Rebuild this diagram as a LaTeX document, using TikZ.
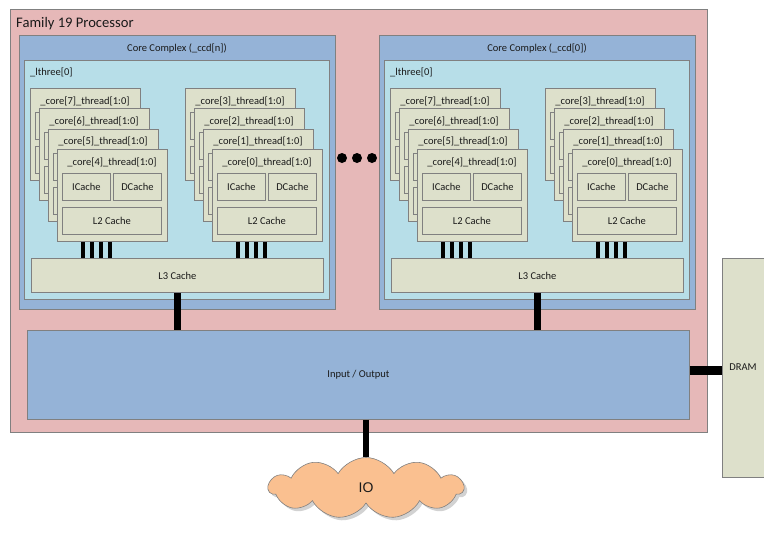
\documentclass[tikz,border=0pt]{standalone}
\usepackage{fontspec}
\setmainfont{Carlito}
\newfontfamily\arialf{Liberation Sans}
\usetikzlibrary{calc,shapes.symbols,shadows}
\definecolor{pinkbg}{HTML}{E6B8B8}
\definecolor{bluegray}{HTML}{95B3D7}
\definecolor{lblue}{HTML}{B7DEE8}
\definecolor{beige}{HTML}{DDE0CB}
\definecolor{cloudor}{HTML}{FAC090}
\definecolor{edge}{HTML}{808080}
\definecolor{txt}{HTML}{1A1A1A}
\tikzset{
  box/.style={draw=edge, line width=0.8pt, inner sep=0pt, anchor=north west, text=txt},
  corebx/.style={box, fill=beige, minimum width=110pt, minimum height=92pt},
  subbx/.style={box, fill=beige, minimum height=27pt, font=\fontsize{10.5}{12}\selectfont},
  lab/.style={inner sep=0pt, text=txt, font=\fontsize{10.5}{12}\selectfont},
  bus/.style={line width=3.5pt, black},
  widebus/.style={line width=7.5pt, black},
}
% #1 name, #2 x, #3 y, #4 index, #5 #6 #7 texts of sub boxes
\newcommand\corebox[7]{%
  \node[corebx] (#1) at (#2,#3) {};
  \node[lab] (#1t) at ($(#1.north west)+(55,13)$) {\_core[#4]\_thread[1:0]};
  \node[subbx, minimum width=48pt] (#1i) at ($(#1.north west)+(5,24)$) {#5};
  \node[subbx, minimum width=48pt] (#1d) at ($(#1.north west)+(56,24)$) {#6};
  \node[subbx, minimum width=99pt] (#1l) at ($(#1.north west)+(5,58)$) {#7};
}
\begin{document}
\begin{tikzpicture}[x=1pt,y=-1pt]
\useasboundingbox (0,0) rectangle (780,533);
% outer processor
\node[box, fill=pinkbg, minimum width=697pt, minimum height=423pt] (proc) at (10,9) {};
\node[lab, anchor=west, font=\fontsize{14.6}{18}\selectfont] (proct) at (16,24) {Family 19 Processor};
% complexes
\foreach \cx/\cn/\cl in {0/L/n, 360/R/0} {
  \node[box, fill=bluegray, minimum width=316pt, minimum height=274pt] (\cn cc) at (19+\cx,35) {};
  \node[lab] (\cn cct) at (177+\cx,49) {Core Complex (\_ccd[\cl])};
  \node[box, fill=lblue, minimum width=305pt, minimum height=239pt] (\cn l3b) at (24+\cx,60) {};
  \node[lab, anchor=west] (\cn l3bt) at (30+\cx,72) {\_lthree[0]};
  \node[box, fill=beige, minimum width=292pt, minimum height=34pt, font=\fontsize{10.5}{12}\selectfont] (\cn l3) at (31+\cx,258) {L3 Cache};
  \foreach \gx/\gb in {0/7, 155/3} {
    \foreach \k in {0,...,3} {
      \pgfmathtruncatemacro\idx{\gb-\k}
      \ifnum\k=3
        \corebox{\cn\gb\k}{\cx+\gx+30+9*\k}{88+20.33*\k}{\idx}{ICache}{DCache}{L2 Cache}
      \else
        \corebox{\cn\gb\k}{\cx+\gx+30+9*\k}{88+20.33*\k}{\idx}{}{}{}
      \fi
    }
    \foreach \o in {26,35,44,53} {
      \path (\cn\gb3.south west) ++(\o,0) coordinate (\cn\gb b\o);
      \draw[bus] (\cn\gb b\o) -- (\cn\gb b\o |- \cn l3.north);
    }
  }
}
% dots
\foreach \i/\dx in {1/342,2/357,3/372} {
  \node[circle, fill=black, inner sep=0pt, minimum size=10pt] (dot\i) at (\dx,158) {};
}
% IO box
\node[box, fill=bluegray, minimum width=662pt, minimum height=89pt, font=\fontsize{10.5}{12}\selectfont] (io) at (27,330) {Input / Output};
\foreach \cn in {L,R} {
  \draw[widebus] (\cn l3.south) -- (\cn l3.south |- io.north);
}
% DRAM
\path[fill=beige] (722,258) rectangle (764,477);
\draw[edge, line width=0.8pt] (764,258) -- (722,258) -- (722,477) -- (764,477);
\node[lab, font=\fontsize{10.5}{12}\selectfont] (dram) at (743,367.5) {DRAM};
\coordinate (dj) at (722,370);
\draw[line width=9pt, black] (dj -| io.east) -- (dj);
% cloud
\node[cloud, cloud puffs=11, cloud puff arc=120, aspect=3.2, draw=edge, line width=0.6pt, fill=cloudor,
      minimum width=195pt, minimum height=61pt, inner sep=0pt,
      drop shadow={shadow xshift=3pt, shadow yshift=-3pt, fill=gray!70},
      font=\arialf\fontsize{14}{16}\selectfont, text=txt] (cloud) at (366,488) {IO};
\draw[widebus, line width=6.5pt] (cloud.north |- io.south) -- (cloud.north);
\end{tikzpicture}
\end{document}
